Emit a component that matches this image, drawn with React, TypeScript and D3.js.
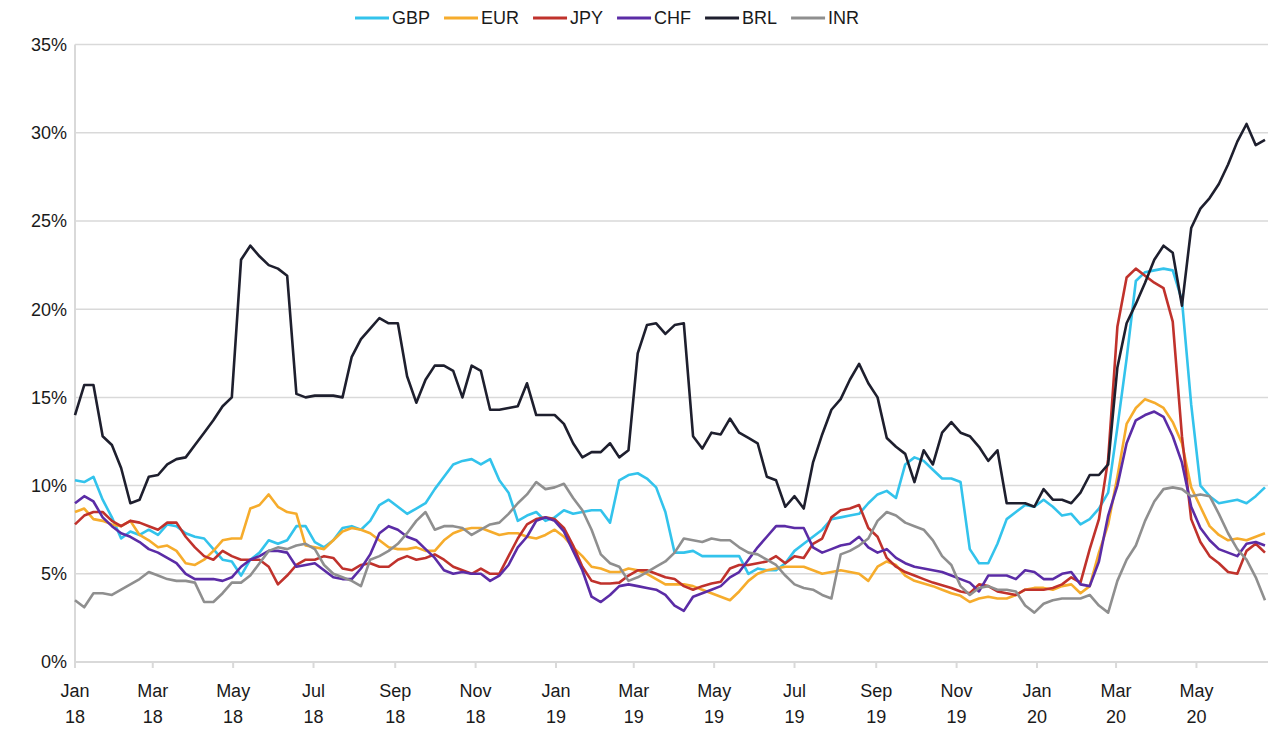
import React, { useEffect, useRef } from "react";
import * as d3 from "d3";

// weekly observations starting 1 Jan 2018
const START = new Date(Date.UTC(2018, 0, 1));
const weekDates: Date[] = d3.range(130).map((k) => d3.utcDay.offset(START, k * 7));

const gbp = [
  10.3, 10.2, 10.5, 9.2, 8.2, 7.0, 7.4, 7.2, 7.5, 7.2,
  7.8, 7.7, 7.3, 7.1, 7.0, 6.4, 5.8, 5.7, 4.9, 5.8,
  6.2, 6.9, 6.7, 6.9, 7.7, 7.7, 6.8, 6.5, 6.9, 7.6,
  7.7, 7.5, 8.0, 8.9, 9.2, 8.8, 8.4, 8.7, 9.0, 9.8,
  10.5, 11.2, 11.4, 11.5, 11.2, 11.5, 10.3, 9.6, 8.0, 8.3,
  8.5, 8.0, 8.2, 8.6, 8.4, 8.5, 8.6, 8.6, 7.9, 10.3,
  10.6, 10.7, 10.4, 9.9, 8.5, 6.2, 6.2, 6.3, 6.0, 6.0,
  6.0, 6.0, 6.0, 5.0, 5.3, 5.2, 5.2, 5.6, 6.3, 6.7,
  7.1, 7.5, 8.1, 8.2, 8.3, 8.4, 9.0, 9.5, 9.7, 9.3,
  11.2, 11.6, 11.4, 10.9, 10.4, 10.4, 10.2, 6.4, 5.6, 5.6,
  6.7, 8.1, 8.5, 8.9, 8.8, 9.2, 8.8, 8.3, 8.4, 7.8,
  8.1, 8.7, 9.6, 13.3, 17.2, 21.6, 22.1, 22.2, 22.3, 22.2,
  20.5, 14.6, 10.0, 9.4, 9.0, 9.1, 9.2, 9.0, 9.4, 9.9,
];

const eur = [
  8.5, 8.7, 8.1, 8.0, 7.8, 7.7, 8.0, 7.2, 6.9, 6.5,
  6.6, 6.3, 5.6, 5.5, 5.8, 6.3, 6.9, 7.0, 7.0, 8.7,
  8.9, 9.5, 8.8, 8.5, 8.4, 6.6, 6.5, 6.4, 6.9, 7.4,
  7.6, 7.5, 7.3, 6.9, 6.5, 6.4, 6.4, 6.5, 6.3, 6.3,
  6.9, 7.3, 7.5, 7.6, 7.6, 7.4, 7.2, 7.3, 7.3, 7.1,
  7.0, 7.2, 7.5, 7.1, 6.5, 6.0, 5.4, 5.3, 5.1, 5.1,
  5.3, 5.2, 5.0, 4.7, 4.4, 4.4, 4.4, 4.3, 4.1, 3.9,
  3.7, 3.5, 4.0, 4.6, 5.0, 5.2, 5.3, 5.4, 5.4, 5.4,
  5.2, 5.0, 5.1, 5.2, 5.1, 5.0, 4.6, 5.4, 5.7, 5.5,
  4.9, 4.6, 4.45, 4.3, 4.1, 3.9, 3.75, 3.4, 3.6, 3.7,
  3.6, 3.6, 3.8, 4.1, 4.2, 4.2, 4.1, 4.3, 4.4, 3.9,
  4.3, 6.2, 7.8, 10.5, 13.5, 14.4, 14.9, 14.7, 14.4, 13.6,
  12.4, 9.9, 8.8, 7.7, 7.2, 6.9, 7.0, 6.9, 7.1, 7.3,
];

const jpy = [
  7.8, 8.3, 8.5, 8.5, 8.0, 7.7, 8.0, 7.9, 7.7, 7.5,
  7.9, 7.9, 7.1, 6.5, 6.0, 5.8, 6.3, 6.0, 5.8, 5.8,
  5.8, 5.4, 4.4, 4.9, 5.5, 5.8, 5.8, 6.0, 5.9, 5.3,
  5.2, 5.5, 5.6, 5.4, 5.4, 5.8, 6.0, 5.8, 5.9, 6.1,
  5.8, 5.4, 5.2, 5.0, 5.3, 5.0, 5.0, 6.0, 7.0, 7.8,
  8.1, 8.2, 8.1, 7.6, 6.6, 5.4, 4.6, 4.45, 4.45, 4.5,
  4.9, 5.2, 5.2, 5.0, 4.8, 4.7, 4.3, 4.1, 4.3, 4.45,
  4.55, 5.3, 5.5, 5.5, 5.6, 5.7, 6.0, 5.6, 6.0, 5.9,
  6.7, 7.0, 8.2, 8.6, 8.7, 8.9, 7.6, 7.1, 5.9, 5.4,
  5.1, 4.9, 4.7, 4.5, 4.35, 4.2, 4.0, 3.9, 4.4, 4.3,
  4.0, 3.9, 3.8, 4.1, 4.1, 4.1, 4.2, 4.4, 4.8, 4.5,
  6.4, 8.1, 11.5, 19.0, 21.8, 22.3, 21.9, 21.5, 21.2, 19.3,
  12.8, 8.1, 6.8, 6.0, 5.6, 5.1, 5.0, 6.3, 6.7, 6.2,
];

const chf = [
  9.0, 9.4, 9.1, 8.2, 7.7, 7.3, 7.1, 6.8, 6.4, 6.2,
  5.9, 5.6, 5.0, 4.7, 4.7, 4.7, 4.6, 4.8, 5.4, 5.8,
  6.0, 6.3, 6.3, 6.2, 5.4, 5.5, 5.6, 5.2, 4.8, 4.7,
  4.7, 5.3, 6.1, 7.3, 7.7, 7.5, 7.1, 6.9, 6.4, 5.9,
  5.2, 5.0, 5.1, 5.0, 5.0, 4.6, 4.9, 5.5, 6.5, 7.1,
  8.0, 8.2, 8.0, 7.4, 6.3, 5.2, 3.7, 3.4, 3.8, 4.3,
  4.4, 4.3, 4.2, 4.1, 3.8, 3.2, 2.9, 3.7, 3.9, 4.1,
  4.3, 4.8, 5.1, 5.8, 6.5, 7.1, 7.7, 7.7, 7.6, 7.6,
  6.5, 6.2, 6.4, 6.6, 6.7, 7.1, 6.5, 6.2, 6.4, 5.9,
  5.6, 5.4, 5.3, 5.2, 5.1, 4.9, 4.7, 4.5, 4.0, 4.9,
  4.9, 4.9, 4.7, 5.2, 5.1, 4.7, 4.7, 5.0, 5.1, 4.4,
  4.3, 5.7, 8.3, 10.0, 12.4, 13.7, 14.0, 14.2, 13.9, 12.8,
  11.3, 8.8, 7.6, 6.9, 6.4, 6.2, 6.0, 6.7, 6.8, 6.6,
];

const brl = [
  14.0, 15.7, 15.7, 12.8, 12.3, 11.0, 9.0, 9.2, 10.5, 10.6,
  11.2, 11.5, 11.6, 12.3, 13.0, 13.7, 14.5, 15.0, 22.8, 23.6,
  23.0, 22.5, 22.3, 21.9, 15.2, 15.0, 15.1, 15.1, 15.1, 15.0,
  17.3, 18.3, 18.9, 19.5, 19.2, 19.2, 16.2, 14.7, 16.0, 16.8,
  16.8, 16.5, 15.0, 16.8, 16.5, 14.3, 14.3, 14.4, 14.5, 15.8,
  14.0, 14.0, 14.0, 13.5, 12.4, 11.6, 11.9, 11.9, 12.4, 11.6,
  12.0, 17.5, 19.1, 19.2, 18.6, 19.1, 19.2, 12.8, 12.1, 13.0,
  12.9, 13.8, 13.0, 12.7, 12.4, 10.5, 10.3, 8.8, 9.4, 8.7,
  11.3, 12.9, 14.3, 14.9, 16.0, 16.9, 15.8, 15.0, 12.7, 12.2,
  11.8, 10.2, 12.0, 11.2, 13.0, 13.6, 13.0, 12.8, 12.2, 11.4,
  12.0, 9.0, 9.0, 9.0, 8.8, 9.8, 9.2, 9.2, 9.0, 9.6,
  10.6, 10.6, 11.2, 16.7, 19.2, 20.3, 21.5, 22.8, 23.6, 23.2,
  20.2, 24.6, 25.7, 26.3, 27.1, 28.2, 29.5, 30.5, 29.3, 29.6,
];

const inr = [
  3.5, 3.1, 3.9, 3.9, 3.8, 4.1, 4.4, 4.7, 5.1, 4.9,
  4.7, 4.6, 4.6, 4.5, 3.4, 3.4, 3.9, 4.5, 4.5, 4.9,
  5.6, 6.3, 6.5, 6.4, 6.6, 6.7, 6.4, 5.5, 5.0, 4.8,
  4.6, 4.3, 5.8, 6.0, 6.3, 6.7, 7.3, 8.0, 8.5, 7.5,
  7.7, 7.7, 7.6, 7.2, 7.5, 7.8, 7.9, 8.4, 9.0, 9.5,
  10.2, 9.8, 9.9, 10.1, 9.3, 8.6, 7.5, 6.1, 5.6, 5.4,
  4.6, 4.8, 5.1, 5.4, 5.7, 6.2, 7.0, 6.9, 6.8, 7.0,
  6.9, 6.9, 6.5, 6.2, 6.1, 5.8, 5.5, 4.9, 4.4, 4.2,
  4.1, 3.8, 3.6, 6.1, 6.3, 6.6, 7.0, 8.0, 8.5, 8.3,
  7.9, 7.7, 7.5, 6.9, 6.0, 5.5, 4.3, 3.8, 4.2, 4.3,
  4.1, 4.1, 4.0, 3.2, 2.8, 3.3, 3.5, 3.6, 3.6, 3.6,
  3.8, 3.2, 2.8, 4.6, 5.8, 6.6, 8.0, 9.1, 9.8, 9.9,
  9.8, 9.4, 9.5, 9.4, 8.4, 7.3, 6.4, 5.8, 4.8, 3.5,
];

const seriesNames = ["GBP", "EUR", "JPY", "CHF", "BRL", "INR"];
const seriesValues = [gbp, eur, jpy, chf, brl, inr];
const seriesColors = ["#33c3ec", "#f6ac2c", "#c0322c", "#5b2ca6", "#1e1f2e", "#8f8f8f"];

const yTickValues = [0, 5, 10, 15, 20, 25, 30, 35];

const theme = {
  gridColor: "#d9d9d9",
  textColor: "#1a1a1a",
  fontFamily: "Arial, 'Liberation Sans', sans-serif",
};

const App = () => {
  const svgRef = useRef<SVGSVGElement | null>(null);

  useEffect(() => {
    document.body.style.margin = "0";
    const svg = d3.select(svgRef.current);
    svg.selectAll("*").remove();

    const width = 1270;
    const height = 729;
    const left = 75;
    const right = 1268;
    const top = 44.6;
    const bottom = 662;

    svg.attr("width", width).attr("height", height);
    svg.append("rect").attr("width", width).attr("height", height).attr("fill", "#ffffff");

    // two anchor dates fix the time scale (Jan 18 .. Jan 20)
    const x = d3
      .scaleUtc()
      .domain([START, new Date(Date.UTC(2020, 0, 1))])
      .range([left, 1037]);
    const y = d3.scaleLinear().domain([0, 35]).range([bottom, top]);

    // horizontal grid
    svg
      .append("g")
      .selectAll("line")
      .data(yTickValues)
      .enter()
      .append("line")
      .attr("x1", left)
      .attr("x2", right)
      .attr("y1", (d) => y(d))
      .attr("y2", (d) => y(d))
      .attr("stroke", theme.gridColor)
      .attr("stroke-width", (d) => (d === 0 ? 2 : 1.5));

    // left axis line
    svg
      .append("line")
      .attr("x1", left)
      .attr("x2", left)
      .attr("y1", y(35))
      .attr("y2", bottom)
      .attr("stroke", theme.gridColor)
      .attr("stroke-width", 2);

    // y labels
    svg
      .append("g")
      .selectAll("text")
      .data(yTickValues)
      .enter()
      .append("text")
      .attr("x", left - 8)
      .attr("y", (d) => y(d))
      .attr("dy", "0.35em")
      .attr("text-anchor", "end")
      .attr("fill", theme.textColor)
      .style("font-size", "18px")
      .style("font-family", theme.fontFamily)
      .text((d) => d + "%");

    // x ticks every two months
    const xTicks = d3.utcMonth.every(2)!.range(START, new Date(Date.UTC(2020, 5, 1)));
    const xAxis = svg.append("g");
    xAxis
      .selectAll("line")
      .data(xTicks)
      .enter()
      .append("line")
      .attr("x1", (d) => x(d))
      .attr("x2", (d) => x(d))
      .attr("y1", bottom)
      .attr("y2", bottom + 6)
      .attr("stroke", theme.gridColor)
      .attr("stroke-width", 2);

    const labels = xAxis
      .selectAll("text")
      .data(xTicks)
      .enter()
      .append("text")
      .attr("text-anchor", "middle")
      .attr("fill", theme.textColor)
      .style("font-size", "18px")
      .style("font-family", theme.fontFamily);
    labels
      .append("tspan")
      .attr("x", (d) => x(d))
      .attr("y", 697)
      .text((d) => d3.utcFormat("%b")(d));
    labels
      .append("tspan")
      .attr("x", (d) => x(d))
      .attr("y", 723)
      .text((d) => d3.utcFormat("%y")(d));

    // series lines
    const line = d3
      .line<number>()
      .x((_, i) => x(weekDates[i]))
      .y((d) => y(d));

    svg
      .append("g")
      .selectAll("path")
      .data(seriesValues)
      .enter()
      .append("path")
      .attr("d", (d) => line(d))
      .attr("fill", "none")
      .attr("stroke", (_, i) => seriesColors[i])
      .attr("stroke-width", 2.6)
      .attr("stroke-linejoin", "round");

    // legend
    const legend = svg.append("g");
    let cursor = 355;
    seriesNames.forEach((name, i) => {
      legend
        .append("line")
        .attr("x1", cursor)
        .attr("x2", cursor + 34)
        .attr("y1", 18)
        .attr("y2", 18)
        .attr("stroke", seriesColors[i])
        .attr("stroke-width", 3);
      const t = legend
        .append("text")
        .attr("x", cursor + 37)
        .attr("y", 18)
        .attr("dy", "0.35em")
        .attr("fill", theme.textColor)
        .style("font-size", "18px")
        .style("font-family", theme.fontFamily)
        .text(name);
      const w = (t.node() as SVGTextElement).getComputedTextLength();
      cursor += 37 + w + 14;
    });
  }, []);

  return <svg ref={svgRef} style={{ display: "block" }}></svg>;
};

export default App;
